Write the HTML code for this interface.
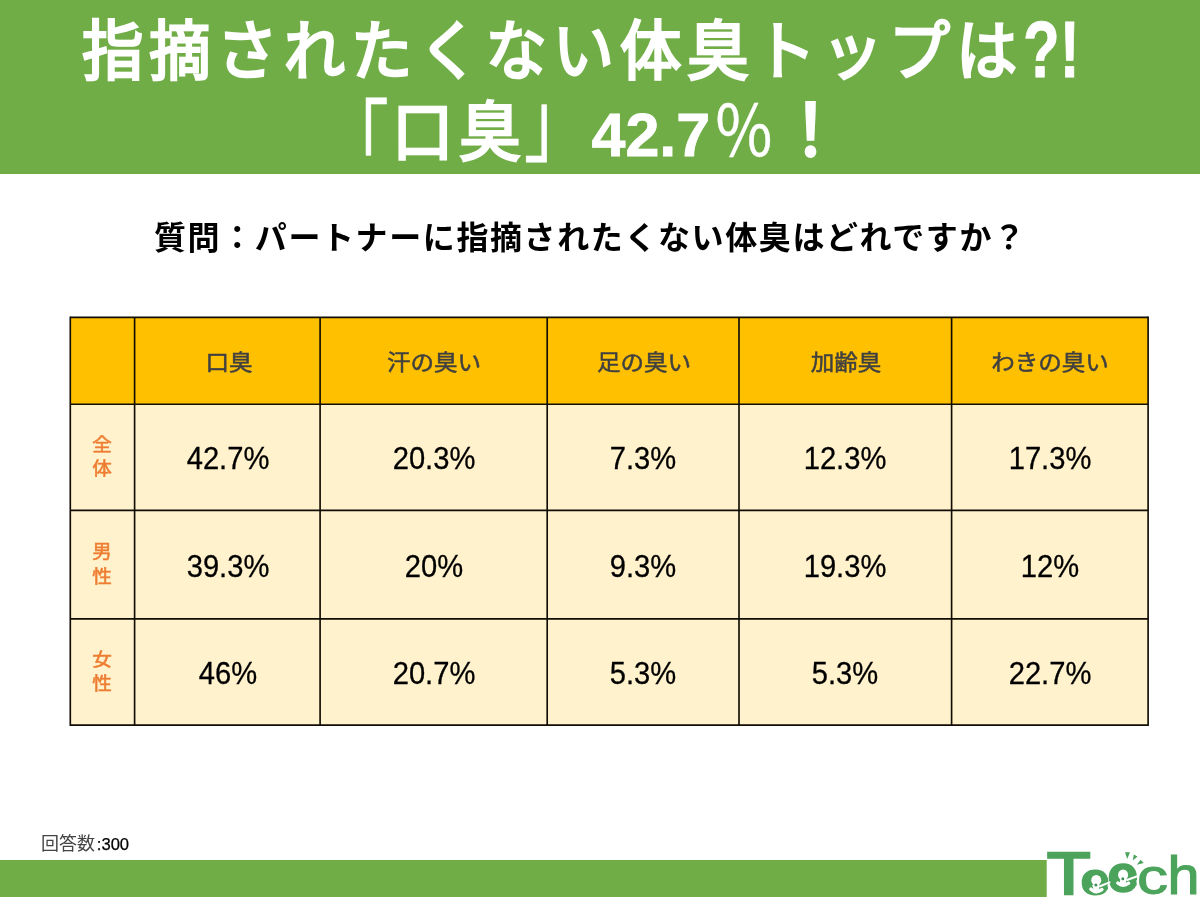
<!DOCTYPE html>
<html lang="ja">
<head>
<meta charset="utf-8">
<title>指摘されたくない体臭トップは?! 「口臭」42.7%！</title>
<style>
*{box-sizing:border-box;margin:0;padding:0}
html,body{width:1200px;height:897px;overflow:hidden;background:#fff}
body{position:relative;font-family:"Liberation Sans","Noto Sans CJK JP",sans-serif;color:#000}
.abs{position:absolute;white-space:nowrap}
.hdr{position:absolute;left:0;top:0;width:1200px;height:174px;background:#70ad47}
.ttl{color:#fff;font-size:66px;line-height:66px;height:66px;font-weight:400;letter-spacing:6.3px;-webkit-text-stroke:2.8px #fff;transform:scaleX(.93);transform-origin:0 0}
.tb{color:#fff;font-weight:700;transform-origin:0 0;line-height:1;-webkit-text-stroke:0.8px #fff}
.q{left:154px;top:214px;font-size:32px;line-height:48px;font-weight:700;letter-spacing:1.6px}
.grid{position:absolute;left:0;top:0;width:1200px;height:897px}
.c{position:absolute;white-space:nowrap;text-align:center;transform:translate(-50%,-50%)}
.h{font-size:22px;line-height:30px;color:#404040;transform:translate(-50%,-50%) scaleX(1.07);-webkit-text-stroke:0.5px #404040}
.v{font-size:31px;line-height:36px;transform:translate(-50%,-50%) scaleX(.94);-webkit-text-stroke:0.3px #000}
.r{color:#ed7d31;font-size:18.5px;line-height:24.6px;font-weight:400;-webkit-text-stroke:0.55px #ed7d31;transform:translate(-50%,-50%) scaleX(1.06)}
.n{left:41px;top:832px;font-size:18px;line-height:24px;color:#444}
.n span{font-size:16.6px;color:#000;margin-left:1.8px;-webkit-text-stroke:0.25px #000}
</style>
</head>
<body>
<div class="hdr" role="heading" aria-label="指摘されたくない体臭トップは?! 「口臭」42.7％！"></div>
<div class="abs ttl" id="t1a" style="left:81.7px;top:18.8px;transform:scale(.93,.975);transform-origin:0 50%">指摘されたくない体臭トップは</div>
<div class="abs tb" id="t1b" style="left:1022.5px;top:10px;font-size:79px;transform:scaleX(.76)">?!</div>
<div class="abs ttl" id="t2o" style="left:323.5px;top:97.5px;-webkit-text-stroke:0.5px #fff;transform:scale(.98,1.33)">「</div>
<div class="abs ttl" id="t2a" style="left:392.2px;top:99.5px;transform:scale(.93,.975);transform-origin:0 50%">口臭</div>
<div class="abs ttl" id="t2e" style="left:524.3px;top:79.6px;-webkit-text-stroke:0.5px #fff;transform:scale(.98,1.33)">」</div>
<div class="abs tb" id="t2b" style="left:591.5px;top:105px;font-size:61px">42.7</div>
<div class="abs ttl" id="t2c" style="left:713.4px;top:96.8px;-webkit-text-stroke:0.4px #fff;transform:scale(.935,1.07)">％</div>
<div class="abs ttl" id="t2d" style="left:778.3px;top:97px;font-size:70px;line-height:70px;-webkit-text-stroke:3.6px #fff">！</div>
<div class="abs q" id="q">質問：パートナーに指摘されたくない体臭はどれですか？</div>

<svg class="grid" viewBox="0 0 1200 897">
<rect x="70.3" y="317.4" width="1077.8" height="86.8" fill="#ffc000"/>
<rect x="70.3" y="404.2" width="1077.8" height="320.9" fill="#fff2cc"/>
<g stroke="#120d04" stroke-width="1.65" fill="none">
<path d="M70.3 316.55V725.95M134.6 317.4V725.1M320.1 317.4V725.1M547.2 317.4V725.1M739 317.4V725.1M951.6 317.4V725.1M1148.1 316.55V725.95"/>
<path d="M70.3 317.4H1148.1M70.3 404.2H1148.1M70.3 510.4H1148.1M70.3 618.8H1148.1M70.3 725.1H1148.1"/>
</g>
</svg>

<div class="c h" style="left:228.8px;top:362.5px">口臭</div>
<div class="c h" style="left:434px;top:362.5px">汗の臭い</div>
<div class="c h" style="left:643.5px;top:362.5px">足の臭い</div>
<div class="c h" style="left:845.5px;top:362.5px">加齢臭</div>
<div class="c h" style="left:1050px;top:362.5px">わきの臭い</div>

<div class="c r" aria-label="全体" style="left:102.4px;top:457.5px">全<br>体</div>
<div class="c r" aria-label="男性" style="left:102.4px;top:565.4px">男<br>性</div>
<div class="c r" aria-label="女性" style="left:102.4px;top:672.6px">女<br>性</div>

<div class="c v" style="left:227.5px;top:458.7px">42.7%</div>
<div class="c v" style="left:433.6px;top:458.7px">20.3%</div>
<div class="c v" style="left:643.1px;top:458.7px">7.3%</div>
<div class="c v" style="left:845.3px;top:458.7px">12.3%</div>
<div class="c v" style="left:1049.8px;top:458.7px">17.3%</div>

<div class="c v" style="left:227.5px;top:566.5px">39.3%</div>
<div class="c v" style="left:433.6px;top:566.5px">20%</div>
<div class="c v" style="left:643.1px;top:566.5px">9.3%</div>
<div class="c v" style="left:845.3px;top:566.5px">19.3%</div>
<div class="c v" style="left:1049.8px;top:566.5px">12%</div>

<div class="c v" style="left:227.5px;top:673.5px">46%</div>
<div class="c v" style="left:433.6px;top:673.5px">20.7%</div>
<div class="c v" style="left:643.1px;top:673.5px">5.3%</div>
<div class="c v" style="left:845.3px;top:673.5px">5.3%</div>
<div class="c v" style="left:1049.8px;top:673.5px">22.7%</div>

<div class="abs n" id="n">回答数<span>:300</span></div>

<svg class="grid" viewBox="0 0 1200 897" id="ft" role="img" aria-label="Teech">
<title>Teech</title>
<rect x="0" y="860" width="1046.7" height="37" fill="#70ad47"/>
<g fill="#4ca35b" font-family="Liberation Sans, sans-serif" font-weight="700" font-size="50">
<text transform="translate(1046.97 893.59) scale(1.424 1.19)" font-weight="400" stroke="#4ca35b" stroke-width="2.04">T</text>
<text transform="translate(1081.56 893.9) scale(0.971 0.86)" stroke="#4ca35b" stroke-width="3.4" stroke-linejoin="round">e</text>
<text transform="translate(1108.54 890.72) scale(1.029 0.964)" stroke="#4ca35b" stroke-width="3.4" stroke-linejoin="round">e</text>
<text transform="translate(1137.1 894.24) scale(1.246 0.984)" font-weight="400" stroke="#4ca35b" stroke-width="0.96" stroke-linejoin="round">c</text>
<text transform="translate(1167.4 894.4) scale(1.15 1.082)" font-weight="400" stroke="#4ca35b" stroke-width="1.08">h</text>
</g>
<g id="faces">
<g fill="#4ca35b">
<path d="M1097 883.6H1107.2Q1108.3 886.5 1107.4 889.6H1097Z"/>
<path d="M1125 879.6H1136.2Q1137 882.5 1136.2 885.4H1125Z"/>
</g>
<g fill="#fff" stroke="none">
<ellipse cx="1096.25" cy="880.3" rx="5" ry="5.3"/>
<rect x="1093.3" y="884" width="5.9" height="6"/>
<ellipse cx="1123.1" cy="874.9" rx="5" ry="5.5"/>
<rect x="1120.1" y="878" width="5.9" height="5.5"/>
</g>
<g fill="none" stroke="#fff" stroke-linecap="round">
<path d="M1091 889.2Q1096 893.8 1101.8 889.6" stroke-width="3.6"/>
<path d="M1100 886.2L1109.5 882.4" stroke-width="2.1"/>
<path d="M1117.8 883Q1122.8 887.2 1128.6 883.2" stroke-width="3.4"/>
<path d="M1127 880L1138 876" stroke-width="2.1"/>
</g>
<g fill="#3f8f58">
<circle cx="1095.9" cy="885" r="1.5"/>
<circle cx="1122.8" cy="878.8" r="1.5"/>
</g>
<g fill="#4ca35b">
<path d="M1125 852.2L1130 852.2L1127.2 859Z"/>
<path d="M1133.75 854.4L1137.5 856.6L1132.8 860.6Z"/>
<path d="M1140.6 859.7L1143.75 863.1L1136.9 864.7Z"/>
</g>
</g>
</svg>
</body>
</html>
